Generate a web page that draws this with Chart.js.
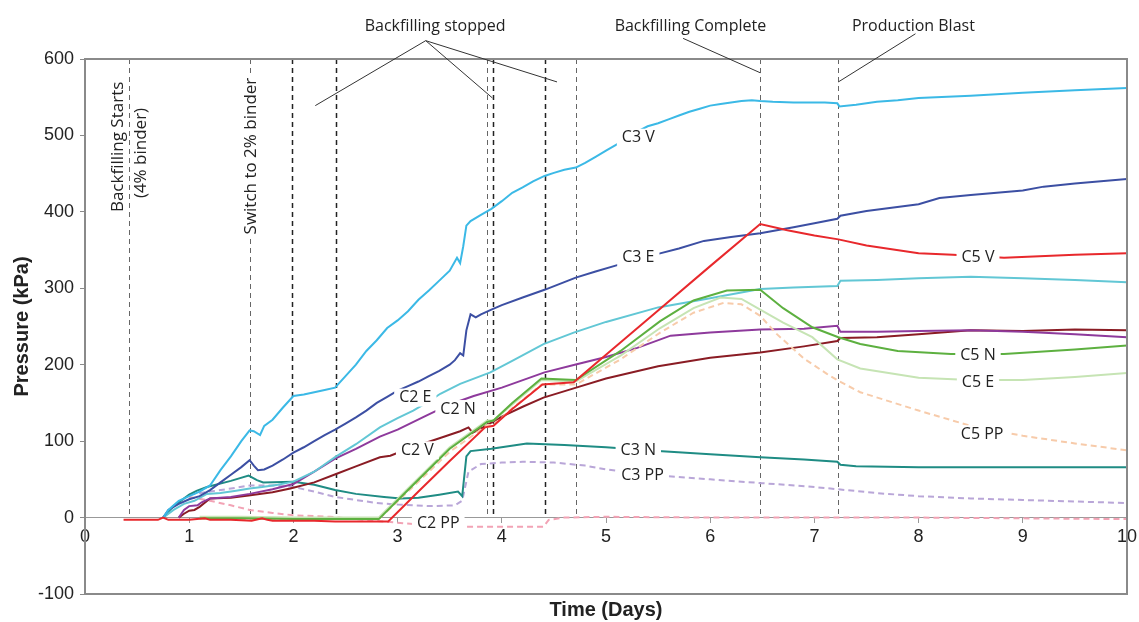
<!DOCTYPE html>
<html>
<head>
<meta charset="utf-8">
<script src="https://cdn.jsdelivr.net/npm/chart.js@4.4.1/dist/chart.umd.min.js"></script>
<style>
  body { margin: 0; background: #fff; }
  #wrap { width: 1139px; height: 622px; }
</style>
</head>
<body>
<div id="wrap"><canvas id="pressureChart"></canvas></div>
<script>
// time in days, pressure in kPa
const c5vDays = [0.37,0.5,0.7,0.75,0.8,1.0,1.15,1.2,1.4,1.6,1.7,1.75,1.8,2.0,2.2,2.4,2.6,2.8,2.91,3.2,3.5,3.84,3.92,4.1,4.39,4.69,5.0,5.5,6.0,6.48,6.74,7.0,7.23,7.5,8.0,8.33,8.82,9.5,10];
const c5vKpa  = [-3,-3,-3,0,-3,-3,-1,-3,-3,-4,-1,-3,-4,-4,-4,-5,-5,-5,-5,34,74,118,120,142,174,177,213,271,329,384,376,369,364,356,346,344,340,344,346];

const c5nDays = [1.1,1.5,2.0,2.5,2.82,3.1,3.5,3.86,3.92,4.1,4.38,4.71,5.14,5.52,5.84,6.16,6.48,6.7,6.98,7.23,7.44,7.8,8.31,8.82,9.5,10];
const c5nKpa  = [-1,-1,-2,-2,-2,36,90,125,127,150,182,180,218,257,284,297,298,274,249,236,227,218,214,214,220,225];

const c5eDays = [1.1,1.5,2.0,2.5,2.82,3.1,3.5,3.86,3.92,4.1,4.38,4.71,5.14,5.52,5.84,6.1,6.3,6.48,6.7,6.98,7.22,7.44,8.0,8.5,9.0,9.5,10];
const c5eKpa  = [1,1,0,0,0,38,92,127,127,148,180,178,212,248,274,288,286,272,255,236,207,195,183,180,180,184,189];

const c5ppDays = [1.1,2.0,2.82,3.1,3.5,3.86,3.92,4.1,4.38,4.71,5.14,5.52,5.84,6.13,6.3,6.48,6.64,6.9,7.12,7.23,7.44,8.0,8.5,9.0,9.5,10];
const c5ppKpa  = [-2,-2,-2,34,86,121,121,143,174,174,207,242,268,281,279,264,240,208,188,179,164,140,120,107,97,88];

const c3vDays = [0.75,0.8,0.9,1.0,1.1,1.2,1.3,1.4,1.5,1.58,1.62,1.68,1.72,1.8,1.9,2.0,2.1,2.2,2.3,2.4,2.5,2.6,2.7,2.8,2.9,3.0,3.1,3.2,3.3,3.4,3.5,3.57,3.6,3.63,3.66,3.7,3.8,3.9,4.0,4.1,4.2,4.3,4.41,4.5,4.6,4.71,4.8,4.9,5.0,5.1,5.2,5.3,5.4,5.5,5.6,5.7,5.8,5.9,6.0,6.1,6.2,6.3,6.4,6.48,6.6,6.8,7.0,7.1,7.22,7.24,7.4,7.6,7.8,8.0,8.5,9.0,9.5,10];
const c3vKpa  = [0,10,22,28,34,42,62,80,100,114,113,108,120,128,144,159,161,164,167,170,185,200,218,232,248,258,270,285,297,310,323,340,333,355,382,388,396,404,414,425,432,440,447,451,455,458,464,472,480,488,496,505,512,516,521,526,531,535,539,541,543,545,546,545,544,543,543,543,542,538,540,544,546,549,552,556,559,562];

const c3eDays = [0.75,0.8,0.9,1.0,1.1,1.2,1.3,1.4,1.5,1.58,1.62,1.66,1.72,1.8,1.9,2.0,2.1,2.2,2.3,2.4,2.5,2.6,2.7,2.8,2.9,3.0,3.1,3.2,3.3,3.4,3.5,3.55,3.6,3.63,3.66,3.7,3.75,3.8,3.9,4.0,4.2,4.41,4.6,4.71,4.9,5.1,5.3,5.5,5.7,5.94,6.2,6.48,6.8,7.0,7.22,7.25,7.5,8.0,8.2,8.5,9.0,9.2,9.5,10];
const c3eKpa  = [0,10,18,24,28,36,46,56,66,75,68,62,63,68,76,85,92,100,108,115,123,131,140,150,158,166,172,178,185,192,200,206,215,212,245,266,262,266,272,278,288,298,308,314,322,330,338,345,352,362,367,372,380,385,391,395,401,410,418,422,428,433,437,443];

const c2eDays = [0.75,0.85,0.95,1.05,1.17,1.3,1.45,1.58,1.7,1.85,2.0,2.2,2.4,2.6,2.83,3.0,3.15,3.3,3.41,3.6,3.89,4.1,4.4,4.69,5.0,5.5,6.0,6.48,6.8,7.22,7.25,7.6,8.0,8.5,9.0,9.5,10];
const c2eKpa  = [0,10,18,22,31,32,35,38,40,43,47,60,79,96,118,130,140,152,162,175,190,205,227,242,256,275,287,299,301,303,310,311,313,315,313,311,308];

const c2nDays = [0.9,0.95,1.0,1.08,1.12,1.2,1.4,1.58,1.8,2.0,2.2,2.4,2.6,2.83,3.0,3.27,3.5,3.73,4.0,4.41,4.7,5.0,5.3,5.62,6.0,6.48,6.9,7.22,7.25,7.6,8.0,8.5,9.0,9.5,10];
const c2nKpa  = [0,10,15,16,20,25,27,31,37,44,60,77,90,106,115,133,148,159,170,190,200,210,222,238,242,246,247,251,243,243,244,245,243,240,236];

const c2vDays = [0.9,0.95,1.0,1.05,1.1,1.2,1.4,1.57,1.8,1.97,2.2,2.41,2.6,2.83,2.93,3.1,3.25,3.43,3.6,3.68,3.72,3.82,4.0,4.2,4.4,4.69,5.0,5.5,6.0,6.48,6.9,7.22,7.25,7.6,8.0,8.5,9.0,9.5,10];
const c2vKpa  = [0,5,9,10,14,25,26,29,33,38,46,57,67,79,81,90,97,105,113,118,111,118,132,145,157,169,182,198,209,216,224,231,235,236,240,245,244,246,245];

const c3nDays = [0.75,0.85,1.0,1.07,1.17,1.4,1.57,1.65,1.71,2.0,2.2,2.4,2.6,2.87,3.03,3.2,3.4,3.58,3.62,3.66,3.7,3.9,4.24,4.6,5.0,5.5,6.0,6.48,6.9,7.22,7.25,7.4,8.0,9.0,10];
const c3nKpa  = [0,15,30,35,40,48,55,49,46,47,43,36,31,27,25,26,30,34,28,80,87,90,97,95,92,87,83,79,76,73,69,67,66,66,66];

const c3ppDays = [1.0,1.2,1.4,1.58,1.8,2.0,2.2,2.4,2.6,2.8,3.0,3.3,3.55,3.62,3.68,3.8,4.0,4.2,4.5,4.8,5.0,5.5,6.0,6.5,7.0,7.23,7.6,8.0,8.5,9.0,9.5,10];
const c3ppKpa  = [30,34,38,42,42,40,34,27,23,19,17,15,16,22,60,70,72,73,72,68,63,55,50,45,40,37,32,28,25,23,21,19];

const c2ppDays = [1.0,1.2,1.4,1.58,1.8,2.0,2.35,2.77,3.2,3.6,4.0,4.4,4.45,4.6,5.0,6.0,7.0,8.0,9.0,10];
const c2ppKpa  = [27,22,16,10,6,3,1,-4,-9,-12,-12,-12,-3,0,1,0,0,0,-1,-2];

// in-plot series labels
const labelText = ['C3 V','C3 E','C2 E','C2 N','C2 V','C3 N','C3 PP','C2 PP','C5 V','C5 N','C5 E','C5 PP'];
const labelDay  = [5.31,5.31,3.17,3.58,3.19,5.31,5.35,3.39,8.57,8.57,8.57,8.61];
const labelKpa  = [497,340,157,142,88,88,55,-8,340,212,177,109];

// event markers
const eventDays = [0.42,1.58,1.99,2.41,3.86,3.92,4.41,4.71,6.48,7.23];
const eventDark = [false,false,true,true,false,true,true,false,false,false];

const sideText = ['Backfilling Starts','(4% binder)','Switch to 2% binder'];
const sideDay  = [0.32,0.54,1.595];
const sideKpa  = [485,477,473];

const noteText = ['Backfilling stopped','Backfilling Complete','Production Blast'];
const noteDay  = [3.36,5.81,7.95];
const noteKpa  = [643,643,643];
// leader lines: [dayA, kpaA, dayB, kpaB]
const leaders = [[3.27,624,2.21,539],[3.27,624,3.91,549],[3.27,624,4.53,570],[5.74,627,6.48,582],[7.97,633,7.23,570]];

const pts = (d, k) => d.map((x, i) => ({ x: x, y: k[i] }));

function series(label, d, k, color, dashed) {
    return {
        label: label,
        data: pts(d, k),
        borderColor: color,
        borderWidth: 2,
        borderDash: dashed ? [6, 4] : [],
        pointRadius: 0,
        fill: false,
        tension: 0
    };
}

const annotate = {
    id: 'annotate',
    beforeDatasetsDraw(chart) {
        const { ctx, scales: { x, y } } = chart;
        ctx.save();
        eventDays.forEach((d, i) => {
            const px = Math.round(x.getPixelForValue(d)) + 0.5;
            ctx.beginPath();
            ctx.setLineDash([5, 4]);
            ctx.lineWidth = eventDark[i] ? 1.5 : 1;
            ctx.strokeStyle = eventDark[i] ? '#222' : '#666';
            ctx.moveTo(px, y.getPixelForValue(600));
            ctx.lineTo(px, y.getPixelForValue(0));
            ctx.stroke();
        });
        ctx.restore();
    },
    afterDatasetsDraw(chart) {
        const { ctx, chartArea: a, scales: { x, y } } = chart;
        ctx.save();
        ctx.setLineDash([]);
        ctx.lineWidth = 2;
        ctx.strokeStyle = '#8a8a8a';
        ctx.strokeRect(a.left, a.top, a.right - a.left, a.bottom - a.top);

        ctx.font = '16px "Open Sans"';
        ctx.textAlign = 'center';
        ctx.textBaseline = 'middle';
        labelText.forEach((t, i) => {
            const px = x.getPixelForValue(labelDay[i]);
            const py = y.getPixelForValue(labelKpa[i]);
            const w = ctx.measureText(t).width;
            ctx.fillStyle = '#fff';
            ctx.fillRect(px - w / 2 - 5, py - 9, w + 10, 18);
            ctx.fillStyle = '#222';
            ctx.fillText(t, px, py);
        });

        ctx.font = '17px "Open Sans"';
        sideText.forEach((t, i) => {
            const px = x.getPixelForValue(sideDay[i]);
            const py = y.getPixelForValue(sideKpa[i]);
            const w = ctx.measureText(t).width;
            ctx.save();
            ctx.translate(px, py);
            ctx.rotate(-Math.PI / 2);
            ctx.fillStyle = '#fff';
            ctx.fillRect(-w / 2 - 4, -10, w + 8, 20);
            ctx.fillStyle = '#222';
            ctx.fillText(t, 0, 0);
            ctx.restore();
        });

        ctx.strokeStyle = '#333';
        ctx.lineWidth = 1;
        leaders.forEach(l => {
            ctx.beginPath();
            ctx.moveTo(x.getPixelForValue(l[0]), y.getPixelForValue(l[1]));
            ctx.lineTo(x.getPixelForValue(l[2]), y.getPixelForValue(l[3]));
            ctx.stroke();
        });
        ctx.font = '16px "Open Sans"';
        ctx.fillStyle = '#222';
        noteText.forEach((t, i) => {
            ctx.fillText(t, x.getPixelForValue(noteDay[i]), y.getPixelForValue(noteKpa[i]));
        });
        ctx.restore();
    }
};

Chart.defaults.font.family = '"Liberation Sans", Arial, sans-serif';
Chart.defaults.color = '#222';

new Chart(document.getElementById('pressureChart'), {
    type: 'line',
    data: {
        datasets: [
            series('C5 V', c5vDays, c5vKpa, '#e8282c', false),
            series('C5 N', c5nDays, c5nKpa, '#5db040', false),
            series('C5 E', c5eDays, c5eKpa, '#c6e4b4', false),
            series('C5 PP', c5ppDays, c5ppKpa, '#f7cbaa', true),
            series('C3 V', c3vDays, c3vKpa, '#3bb9e6', false),
            series('C3 E', c3eDays, c3eKpa, '#3c4fa3', false),
            series('C2 E', c2eDays, c2eKpa, '#62c7d5', false),
            series('C2 N', c2nDays, c2nKpa, '#8e3a9c', false),
            series('C2 V', c2vDays, c2vKpa, '#8a1c24', false),
            series('C3 N', c3nDays, c3nKpa, '#1f8c84', false),
            series('C3 PP', c3ppDays, c3ppKpa, '#b9a6d8', true),
            series('C2 PP', c2ppDays, c2ppKpa, '#f2a3b5', true)
        ]
    },
    options: {
        responsive: true,
        maintainAspectRatio: false,
        animation: false,
        layout: { padding: { top: 59, right: 0, left: 0, bottom: 0 } },
        plugins: { legend: { display: false }, tooltip: { enabled: false } },
        scales: {
            x: {
                type: 'linear',
                position: { y: 0 },
                min: 0,
                max: 10,
                ticks: { stepSize: 1, font: { size: 18 }, padding: 4, color: '#222' },
                grid: { drawOnChartArea: false, tickLength: 5, color: '#999' },
                border: { color: '#999', width: 1 },
                afterFit: s => { s.paddingRight = 12; s.paddingLeft = 0; }
            },
            x2: {
                type: 'linear',
                position: 'bottom',
                min: 0,
                max: 10,
                ticks: { display: false },
                grid: { display: false },
                border: { display: false },
                title: { display: true, text: 'Time (Days)', font: { size: 20, weight: 'bold' }, padding: { top: 2, bottom: 0 } },
                afterFit: s => { s.height = 28; }
            },
            y: {
                min: -100,
                max: 600,
                ticks: { stepSize: 100, font: { size: 18 }, padding: 6, color: '#222' },
                grid: { drawOnChartArea: false, tickLength: 5, color: '#8a8a8a' },
                border: { color: '#8a8a8a', width: 2 },
                title: { display: true, text: 'Pressure (kPa)', font: { size: 20, weight: 'bold' }, padding: { top: 10, bottom: 0 } },
                afterFit: s => { s.width = 85; }
            }
        }
    },
    plugins: [annotate]
});
</script>
</body>
</html>
